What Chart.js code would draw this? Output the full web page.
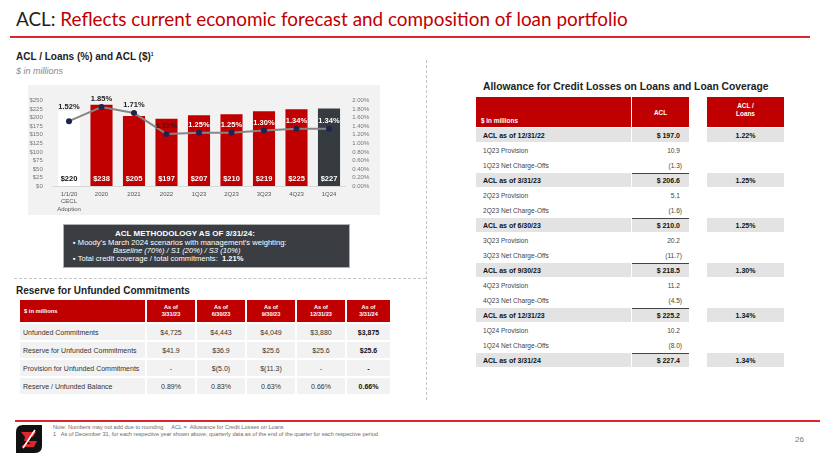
<!DOCTYPE html>
<html>
<head>
<meta charset="utf-8">
<script src="https://cdn.jsdelivr.net/npm/chart.js@4.4.1/dist/chart.umd.min.js"></script>
<style>
  body { margin:0; width:820px; height:461px; background:#fff; position:relative; overflow:hidden; font-family:"Liberation Sans", Arial, sans-serif; }
  .abs { position:absolute; }
  #title { left:16px; top:7px; font-family:Lato, "Open Sans", sans-serif; font-size:18.9px; color:#c00000; white-space:nowrap; }
  #title span { color:#222; }
  #rule { left:10px; top:36px; width:800px; height:2px; background:#d9262c; }
  .h1 { font-weight:bold; font-size:10px; color:#222; white-space:nowrap; }
  .sub { font-style:italic; font-size:9px; color:#8a8a8a; }
  #panel { left:28px; top:85px; width:352px; height:130px; background:#f2f2f2; }
  #method { left:63px; top:224px; width:285px; height:42px; background:#3a3e42; border:1px solid #b0b0b0; color:#fff; font-size:7.6px; line-height:8.4px; }
  .grid { display:grid; position:absolute; }
  .cell { display:flex; align-items:center; justify-content:center; white-space:nowrap; }
  .hd { background:#c00000; color:#fff; font-weight:bold; }
  .rw { background:#f2f2f2; color:#333; font-size:7px; }
  .ar { background:#e3e3e3; color:#111; font-weight:bold; font-size:7px; }
  .pr { color:#444; font-size:6.6px; }
  .note { left:53px; font-size:5.6px; color:#6a6a6a; white-space:nowrap; }
</style>
</head>
<body>
<div id="title" class="abs"><span>ACL: </span>Reflects current economic forecast and composition of loan portfolio</div>
<div id="rule" class="abs"></div>

<div class="abs h1" style="left:16px;top:51px;">ACL / Loans (%) and ACL ($)<sup style="font-size:5px">1</sup></div>
<div class="abs sub" style="left:16px;top:66px;">$ in millions</div>

<div class="abs" style="left:426px;top:60px;height:340px;border-left:1px dashed #c4c4c4;"></div>
<div class="abs" style="left:14px;top:278px;width:412px;border-top:1px dashed #c4c4c4;"></div>

<div id="panel" class="abs"><canvas id="c" width="352" height="130"></canvas></div>

<div id="method" class="abs">
  <div style="position:absolute;left:51px;top:5px;font-weight:bold;font-size:8px;">ACL METHODOLOGY AS OF 3/31/24:</div>
  <div style="position:absolute;left:9px;top:14px;">&#9642; Moody’s March 2024 scenarios with management’s weighting:</div>
  <div style="position:absolute;left:49px;top:22px;font-style:italic;">Baseline (70%) / S1 (20%) / S3 (10%)</div>
  <div style="position:absolute;left:9px;top:30px;">&#9642; Total credit coverage / total commitments: &nbsp;<b>1.21%</b></div>
</div>

<div class="abs h1" style="left:16px;top:285px;">Reserve for Unfunded Commitments</div>
<div id="rufc" class="grid" style="left:20px;top:300px;grid-template-columns:125px 48px 48px 48px 48px 43px;grid-template-rows:22px 16px 16px 16px 16px;column-gap:2px;row-gap:2px;"></div>

<div class="abs h1" style="left:483px;top:81px;font-size:10.3px;">Allowance for Credit Losses on Loans and Loan Coverage</div>
<div id="acl" class="grid" style="left:476px;top:97px;grid-template-columns:155px 57px 16px 77px;grid-template-rows:30px repeat(16, 14px);column-gap:1px;row-gap:1px;"></div>

<div class="abs" style="left:15px;top:420px;width:805px;height:2px;background:#d9262c;"></div>
<svg class="abs" style="left:16px;top:425px;" width="26" height="28" viewBox="0 0 26 28">
  <path d="M7 0 H26 V21 Q26 28 19 28 H0 V7 Q0 0 7 0 Z" fill="#111"/>
  <path d="M5 7 H20 L17 12 H9 Z" fill="#e0262d"/>
  <path d="M9 12 H15 L13 16 H8 Z" fill="#e0262d"/>
  <path d="M11 16 H21 L18 22 H5 L8 19 H15 Z" fill="#e0262d"/>
  <path d="M19 5 L7 23" stroke="#fff" stroke-width="1.6"/>
</svg>
<div class="abs note" style="top:424px;">Note: Numbers may not add due to rounding &nbsp;&nbsp;&nbsp;&nbsp;ACL = &nbsp;Allowance for Credit Losses on Loans</div>
<div class="abs note" style="top:431px;">1 &nbsp;&nbsp;As of December 31, for each respective year shown above; quarterly data as of the end of the quarter for each respective period</div>
<div class="abs" style="left:795px;top:435px;font-size:8px;color:#777;">26</div>

<script>
// chart data
const periods = [['1/1/20', 'CECL', 'Adoption'], '2020', '2021', '2022', '1Q23', '2Q23', '3Q23', '4Q23', '1Q24'];
const aclDollars = [220, 238, 205, 197, 207, 210, 219, 225, 227];
const aclPct = [1.52, 1.85, 1.71, 1.22, 1.25, 1.25, 1.30, 1.34, 1.34];
const dollarTicks = [0, 25, 50, 75, 100, 125, 150, 175, 200, 225, 250];
const pctTicks = [0, 0.2, 0.4, 0.6, 0.8, 1.0, 1.2, 1.4, 1.6, 1.8, 2.0];

// reserve for unfunded commitments table
const rufcCols = ['As of\n3/31/23', 'As of\n6/30/23', 'As of\n9/30/23', 'As of\n12/31/23', 'As of\n3/31/24'];
const rufcRows = ['Unfunded Commitments', 'Reserve for Unfunded Commitments', 'Provision for Unfunded Commitments', 'Reserve / Unfunded Balance'];
const rufcVals = [
  ['$4,725', '$4,443', '$4,049', '$3,880', '$3,875'],
  ['$41.9', '$36.9', '$25.6', '$25.6', '$25.6'],
  ['-', '$(5.0)', '$(11.3)', '-', '-'],
  ['0.89%', '0.83%', '0.63%', '0.66%', '0.66%']
];

// ACL roll-forward table
const aclRows = ['ACL as of 12/31/22', '1Q23 Provision', '1Q23 Net Charge-Offs', 'ACL as of 3/31/23', '2Q23 Provision', '2Q23 Net Charge-Offs',
  'ACL as of 6/30/23', '3Q23 Provision', '3Q23 Net Charge-Offs', 'ACL as of 9/30/23', '4Q23 Provision', '4Q23 Net Charge-Offs',
  'ACL as of 12/31/23', '1Q24 Provision', '1Q24 Net Charge-Offs', 'ACL as of 3/31/24'];
const aclVals = ['$ 197.0', '10.9', '(1.3)', '$ 206.6', '5.1', '(1.6)', '$ 210.0', '20.2', '(11.7)', '$ 218.5', '11.2', '(4.5)', '$ 225.2', '10.2', '(8.0)', '$ 227.4'];
const aclLoans = ['1.22%', '', '', '1.25%', '', '', '1.25%', '', '', '1.30%', '', '', '1.34%', '', '', '1.34%'];

function cell(parent, text, cls, style){
  let d = document.createElement('div');
  d.className = 'cell ' + cls;
  d.style.cssText = style || '';
  d.innerHTML = text.replace(/\n/g, '<br>');
  parent.appendChild(d);
  return d;
}

let rufc = document.getElementById('rufc');
cell(rufc, '$ in millions', 'hd', 'justify-content:flex-start;padding-left:4px;font-size:5.8px;');
rufcCols.forEach(c => cell(rufc, c, 'hd', 'font-size:5.6px;line-height:7px;text-align:center;'));
rufcRows.forEach((r, i) => {
  cell(rufc, r, 'rw', 'justify-content:flex-start;padding-left:3px;');
  rufcVals[i].forEach((v, j) => cell(rufc, v, 'rw', j == 4 ? 'font-weight:bold;color:#111;' : ''));
});

let acl = document.getElementById('acl');
cell(acl, '$ in millions', 'hd', 'justify-content:flex-start;align-items:flex-end;padding:0 0 3px 5px;font-size:6.4px;');
cell(acl, 'ACL', 'hd', 'font-size:6.4px;');
cell(acl, '', '', 'background:#fff;');
cell(acl, 'ACL /\nLoans', 'hd', 'font-size:6.4px;line-height:8px;text-align:center;align-items:flex-start;padding-top:5px;');
aclRows.forEach((r, i) => {
  let sum = i % 3 == 0;
  let cls = sum ? 'ar' : 'pr';
  cell(acl, r, cls, 'justify-content:flex-start;padding-left:7px;');
  let top = (sum && i > 0) ? 'border-top:1.5px solid #444;' : '';
  cell(acl, aclVals[i], cls, 'justify-content:flex-end;padding-right:' + (aclVals[i].indexOf('(') == 0 ? 7 : 9) + 'px;' + top);
  cell(acl, '', '', '');
  cell(acl, aclLoans[i], cls, '');
});

let red = '#c00000', dark = '#363b3f';
let tickFont = { size: 6, family: '"Liberation Sans", Arial' };

const labelPlugin = {
  id: 'labels',
  afterDatasetsDraw(chart){
    let ctx = chart.ctx;
    let bars = chart.getDatasetMeta(0).data;
    let pts = chart.getDatasetMeta(1).data;
    ctx.save();
    ctx.textAlign = 'center';
    ctx.textBaseline = 'middle';
    ctx.font = 'bold 7.5px "Liberation Sans", Arial';
    bars.forEach((b, i) => {
      ctx.fillStyle = i == 0 ? '#111' : '#fff';
      ctx.fillText('$' + aclDollars[i], b.x, b.base - 7);
    });
    pts.forEach((p, i) => {
      let y = p.y - 8;
      if (i == 0) y = Math.min(y, bars[i].y - 4); // sits on top of the white bar
      ctx.fillStyle = y < bars[i].y + 8 ? '#222' : '#fff';
      ctx.fillText(aclPct[i].toFixed(2) + '%', p.x, y);
    });
    ctx.restore();
  }
};

new Chart(document.getElementById('c'), {
  data: {
    labels: periods,
    datasets: [{
      type: 'bar',
      data: aclDollars,
      yAxisID: 'y',
      order: 2,
      backgroundColor: c => c.dataIndex == 0 ? '#ffffff' : (c.dataIndex == aclDollars.length - 1 ? dark : red),
      categoryPercentage: 1,
      barPercentage: 0.68
    }, {
      type: 'line',
      data: aclPct,
      yAxisID: 'y1',
      order: 1,
      borderColor: '#868686',
      borderWidth: 2,
      pointRadius: 3,
      pointBackgroundColor: '#1b2550',
      pointBorderColor: '#1b2550',
      pointBorderWidth: 0
    }]
  },
  options: {
    responsive: false,
    animation: false,
    layout: { padding: { top: 15.7, left: 0, right: 0, bottom: 0 } },
    plugins: { legend: { display: false }, tooltip: { enabled: false } },
    scales: {
      x: {
        grid: { display: false, drawTicks: false },
        border: { display: true, color: '#d8d8d8' },
        ticks: { color: '#555', font: { size: 6, family: '"Liberation Sans", Arial', lineHeight: 1.3 }, padding: 4, maxRotation: 0, autoSkip: false },
        afterFit: s => { s.height = 29; }
      },
      y: {
        position: 'left',
        min: 0, max: 250,
        afterBuildTicks: s => { s.ticks = dollarTicks.map(v => ({ value: v })); },
        grid: { display: false, drawTicks: false },
        border: { display: false },
        ticks: { autoSkip: false, color: '#777', font: tickFont, padding: 10, callback: v => '$' + v },
        afterFit: s => { s.width = 24.75; }
      },
      y1: {
        position: 'right',
        min: 0, max: 2,
        afterBuildTicks: s => { s.ticks = pctTicks.map(v => ({ value: v })); },
        grid: { display: false, drawTicks: false },
        border: { display: false },
        ticks: { autoSkip: false, color: '#777', font: tickFont, padding: 7, callback: v => v.toFixed(2) + '%' },
        afterFit: s => { s.width = 34.75; }
      }
    }
  },
  plugins: [labelPlugin]
});
</script>
</body>
</html>
